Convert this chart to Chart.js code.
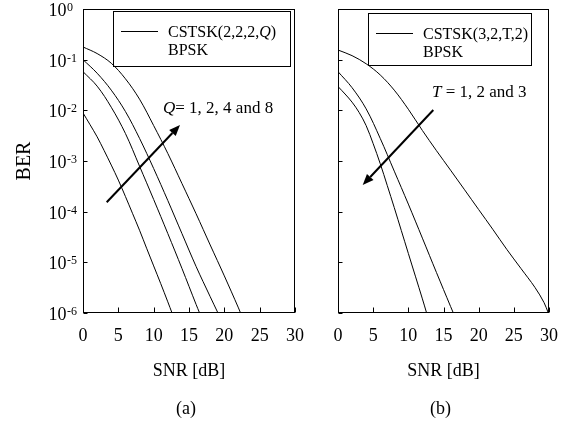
<!DOCTYPE html>
<html>
<head>
<meta charset="utf-8">
<script src="https://cdn.jsdelivr.net/npm/chart.js@4.4.1/dist/chart.umd.min.js"></script>
<style>
  html, body { margin: 0; padding: 0; background: #fff; }
  #wrap { position: relative; width: 570px; height: 421px; }
  #chartA { position: absolute; left: 0; top: 0; }
  #chartB { position: absolute; left: 310px; top: 0; }
</style>
</head>
<body>
<div id="wrap">
  <canvas id="chartA" width="310" height="421"></canvas>
  <canvas id="chartB" width="260" height="421"></canvas>
</div>
<script>
// tick values
const xTicks = [0, 5, 10, 15, 20, 25, 30];
const yExponents = [0, -1, -2, -3, -4, -5, -6];

// (a) CSTSK(2,2,2,Q), Q = 1, 2, 4, 8
const snrQ1 = [0, 1, 2, 3, 4, 5, 6, 7, 8, 9, 10, 11, 12, 12.6];
const berQ1 = [8.9e-3, 5.2e-3, 3.0e-3, 1.6e-3, 8.3e-4, 4.2e-4, 2.0e-4, 9.3e-5, 4.3e-5, 1.9e-5, 8.5e-6, 3.8e-6, 1.66e-6, 1e-6];
const snrQ2 = [0, 2, 4, 6, 8, 10, 12, 14, 16, 16.5];
const berQ2 = [5.8e-2, 3.0e-2, 1.15e-2, 3.5e-3, 7.9e-4, 1.74e-4, 3.7e-5, 7.6e-6, 1.48e-6, 1e-6];
const snrQ4 = [0, 2, 4, 6, 8, 10, 12, 14, 16, 18, 19.1];
const berQ4 = [0.1, 5.4e-2, 2.5e-2, 9.5e-3, 2.8e-3, 7.1e-4, 1.66e-4, 3.7e-5, 8.3e-6, 2.1e-6, 1e-6];
const snrQ8 = [0, 2, 4, 6, 8, 10, 12, 14, 16, 18, 20, 22, 22.3];
const berQ8 = [0.178, 0.132, 8.5e-2, 4.2e-2, 1.66e-2, 5.0e-3, 1.41e-3, 3.6e-4, 9.1e-5, 2.2e-5, 5.4e-6, 1.26e-6, 1e-6];

// (b) CSTSK(3,2,T,2), T = 1, 2, 3
const snrT1 = [0, 2, 4, 6, 8, 10, 12, 14, 16, 18, 20, 22, 24, 26, 28, 29.3, 29.9];
const berT1 = [0.155, 0.120, 8.3e-2, 5.0e-2, 2.5e-2, 1.05e-2, 4.0e-3, 1.6e-3, 6.6e-4, 2.7e-4, 1.1e-4, 4.5e-5, 1.8e-5, 7.6e-6, 3.2e-6, 1.6e-6, 1e-6];
const snrT2 = [0, 2, 4, 6, 8, 10, 12, 14, 16, 16.4];
const berT2 = [5.8e-2, 2.8e-2, 1.07e-2, 2.8e-3, 6.3e-4, 1.41e-4, 3.0e-5, 6.3e-6, 1.35e-6, 1e-6];
const snrT3 = [0, 1, 2, 3, 4, 5, 6, 7, 8, 10, 12, 12.6];
const berT3 = [2.95e-2, 2.1e-2, 1.45e-2, 9.1e-3, 5.0e-3, 2.2e-3, 8.9e-4, 3.3e-4, 1.2e-4, 1.5e-5, 1.9e-6, 1e-6];

const serif = "'Liberation Serif', 'Times New Roman', serif";

function curve(snr, ber) {
  return {
    data: snr.map((s, i) => ({ x: s, y: ber[i] })),
    borderColor: '#000',
    borderWidth: 1,
    pointRadius: 0,
    fill: false,
    tension: 0.35,
  };
}

function drawArrow(ctx, x1, y1, x2, y2) {
  const ang = Math.atan2(y2 - y1, x2 - x1);
  const len = 11, hw = 4.5;
  const bx = x2 - len * Math.cos(ang), by = y2 - len * Math.sin(ang);
  ctx.lineWidth = 2;
  ctx.beginPath();
  ctx.moveTo(x1, y1);
  ctx.lineTo(bx, by);
  ctx.stroke();
  ctx.beginPath();
  ctx.moveTo(x2, y2);
  ctx.lineTo(bx + hw * Math.sin(ang), by - hw * Math.cos(ang));
  ctx.lineTo(bx - hw * Math.sin(ang), by + hw * Math.cos(ang));
  ctx.closePath();
  ctx.fill();
}

// pieces of text, some in italics
function drawRun(ctx, x, y, parts, size) {
  parts.forEach(p => {
    ctx.font = (p.it ? 'italic ' : '') + size + 'px ' + serif;
    ctx.fillText(p.t, x, y);
    x += ctx.measureText(p.t).width;
  });
}

const decor = {
  id: 'decor',
  afterDraw(chart, args, o) {
    const ctx = chart.ctx, a = chart.chartArea;
    const xs = chart.scales.x, ys = chart.scales.y;
    const L = Math.round(a.left) + 0.5, R = Math.round(a.right) - 0.5;
    const T = Math.round(a.top) + 0.5, B = Math.round(a.bottom) - 0.5;
    ctx.save();
    ctx.strokeStyle = '#000';
    ctx.fillStyle = '#000';
    ctx.lineWidth = 1;
    ctx.strokeRect(L, T, R - L, B - T);

    // inward ticks
    ctx.beginPath();
    yExponents.forEach(e => {
      const y = Math.round(ys.getPixelForValue(Math.pow(10, e))) + 0.5;
      ctx.moveTo(L, y); ctx.lineTo(L + 4, y);
    });
    xTicks.forEach(v => {
      const x = Math.round(xs.getPixelForValue(v)) + 0.5;
      ctx.moveTo(x, B); ctx.lineTo(x, B - 5);
    });
    ctx.stroke();

    // y tick labels 10^n
    if (o.yLabels) {
      ctx.textBaseline = 'alphabetic';
      yExponents.forEach(e => {
        const y = ys.getPixelForValue(Math.pow(10, e));
        ctx.font = '18px ' + serif;
        ctx.textAlign = 'right';
        ctx.fillText('10', a.left - 16.5, y + 7);
        ctx.font = '12px ' + serif;
        ctx.textAlign = 'left';
        ctx.fillText(e === 0 ? '0' : '-' + (-e), a.left - 16, y + 2);
      });
    }

    // legend box
    const lg = o.legend;
    ctx.lineWidth = 1;
    ctx.strokeRect(lg.x + 0.5, lg.y + 0.5, lg.w, lg.h);
    ctx.beginPath();
    ctx.moveTo(lg.x + 8, lg.y + 20.5);
    ctx.lineTo(lg.x + 45, lg.y + 20.5);
    ctx.stroke();
    ctx.textAlign = 'left';
    ctx.textBaseline = 'alphabetic';
    drawRun(ctx, lg.x + 55, lg.y + 26, lg.line1, 16);
    drawRun(ctx, lg.x + 55, lg.y + 44, [{ t: 'BPSK' }], 16);

    // annotation and arrow
    drawRun(ctx, o.note.x, o.note.y, o.note.parts, 17);
    drawArrow(ctx, o.arrow[0], o.arrow[1], o.arrow[2], o.arrow[3]);

    // panel caption
    ctx.font = '18px ' + serif;
    ctx.textAlign = 'center';
    ctx.textBaseline = 'middle';
    ctx.fillText(o.caption, (a.left + a.right) / 2 - 3, 409);
    ctx.restore();
  }
};

function makeChart(id, datasets, yWidth, padRight, showY, decorOpts) {
  return new Chart(document.getElementById(id), {
    type: 'line',
    data: { datasets: datasets },
    options: {
      responsive: false,
      animation: false,
      layout: { padding: { top: 9, right: padRight, left: 0, bottom: 0 } },
      plugins: { legend: { display: false }, tooltip: { enabled: false }, decor: decorOpts },
      scales: {
        x: {
          type: 'linear',
          min: 0, max: 30,
          afterBuildTicks: s => { s.ticks = xTicks.map(v => ({ value: v })); },
          afterFit: s => { s.height = 108; },
          grid: { display: false },
          border: { display: false },
          ticks: { color: '#000', padding: 4, font: { family: serif, size: 18 }, maxRotation: 0 },
          title: { display: true, text: 'SNR [dB]', color: '#000', font: { family: serif, size: 18 }, padding: { top: 0, bottom: 39 } }
        },
        y: {
          type: 'logarithmic',
          min: 1e-6, max: 1,
          afterFit: s => { s.width = yWidth; },
          grid: { display: false },
          border: { display: false },
          ticks: { display: false },
          title: { display: showY, text: 'BER', color: '#000', font: { family: serif, size: 20 }, padding: { top: 13, bottom: 0 } }
        }
      }
    },
    plugins: [decor]
  });
}

makeChart('chartA',
  [curve(snrQ1, berQ1), curve(snrQ2, berQ2), curve(snrQ4, berQ4), curve(snrQ8, berQ8)],
  83, 15, true, {
    yLabels: true,
    legend: { x: 113, y: 11, w: 177, h: 55, line1: [{ t: 'CSTSK(2,2,2,' }, { t: 'Q', it: true }, { t: ')' }] },
    note: { x: 163, y: 113, parts: [{ t: 'Q', it: true }, { t: '= 1, 2, 4 and 8' }] },
    arrow: [106.7, 202.3, 180, 125],
    caption: '(a)'
  });

makeChart('chartB',
  [curve(snrT1, berT1), curve(snrT2, berT2), curve(snrT3, berT3)],
  28, 21, false, {
    yLabels: false,
    legend: { x: 58, y: 13, w: 163, h: 52, line1: [{ t: 'CSTSK(3,2,T,2)' }] },
    note: { x: 122, y: 97, parts: [{ t: 'T', it: true }, { t: ' = 1, 2 and 3' }] },
    arrow: [123.3, 110, 52.7, 185],
    caption: '(b)'
  });
</script>
</body>
</html>
